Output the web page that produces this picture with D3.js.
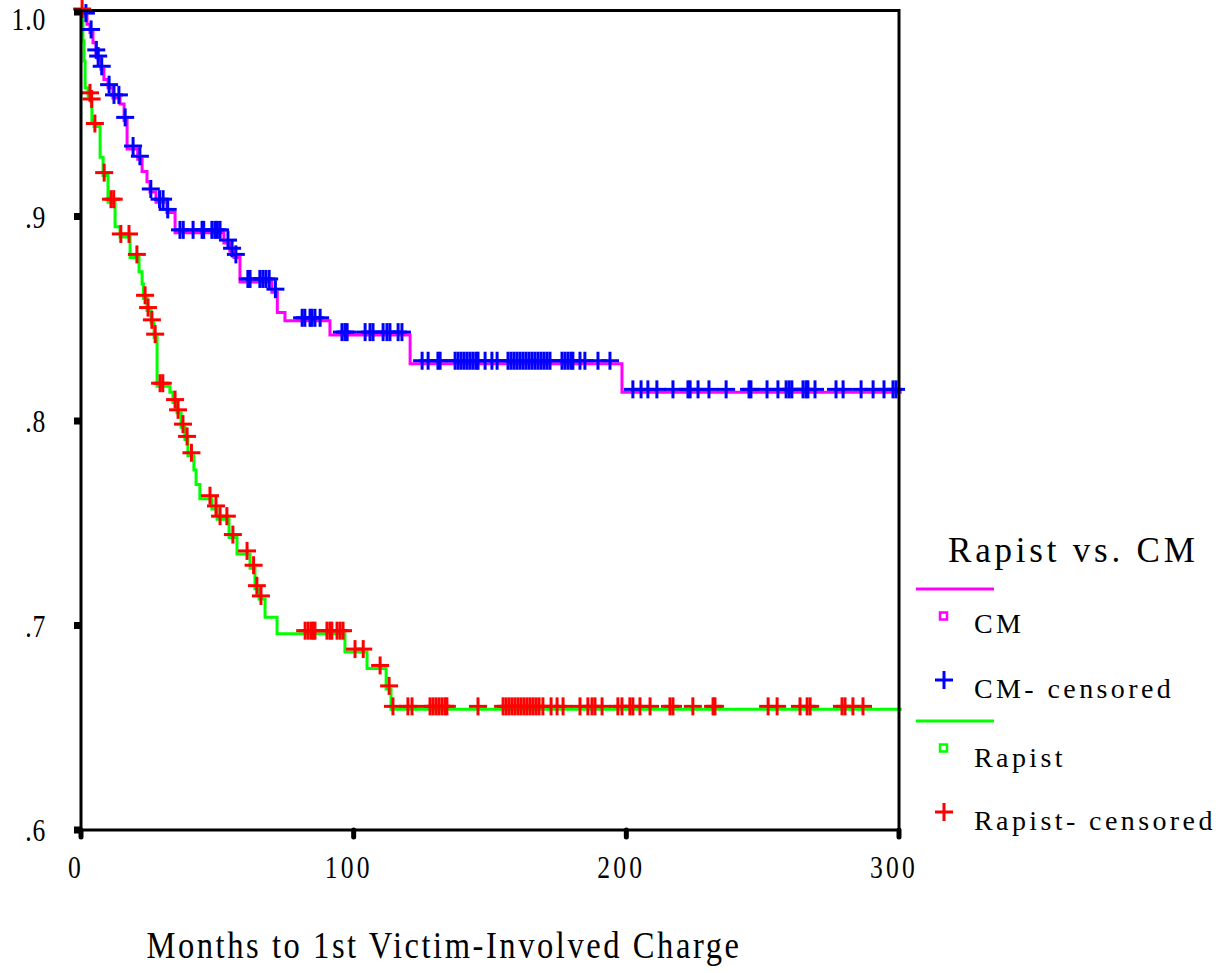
<!DOCTYPE html>
<html>
<head>
<meta charset="utf-8">
<script src="https://cdn.jsdelivr.net/npm/d3@7"></script>
<style>
  body { margin: 0; background: #fff; }
  svg { display: block; }
  text { font-family: "Liberation Serif", "Times New Roman", serif; fill: #000; }
</style>
</head>
<body>
<svg id="chart" width="1232" height="973"></svg>
<script>
// ---- Data ----
const xTicks = [0, 100, 200, 300];
const xTickLabels = ["0", "100", "200", "300"];
const yTicks = [0.6, 0.7, 0.8, 0.9, 1.0];
const yTickLabels = [".6", ".7", ".8", ".9", "1.0"];

// CM group: event (drop) times and survival after each drop
const cmEventTimes = [1.1, 2.2, 3.3, 4.4, 5.5, 6.2, 7.3, 8.4, 9.9, 11.7, 14.3, 15.8, 16.9, 20.8, 22.4, 24.2, 25.3, 27.5, 31.5, 34.5, 52.4, 54.6, 56.1, 58.3, 70.0, 72.0, 74.8, 91.3, 120.7, 198.4];
const cmEventSurv  = [0.998, 0.994, 0.990, 0.985, 0.980, 0.977, 0.972, 0.967, 0.963, 0.958, 0.955, 0.947, 0.933, 0.928, 0.922, 0.917, 0.912, 0.907, 0.902, 0.892, 0.887, 0.883, 0.880, 0.868, 0.863, 0.853, 0.849, 0.842, 0.828, 0.814];
const cmCensored = [1.8, 3.7, 5.6, 6.3, 7.6, 10.3, 12.1, 13.9, 16.2, 19.1, 21.6, 25.6, 28.8, 30.1, 31.8,
  36.3, 37.5, 41.1, 44.4, 45.0, 48.0, 49.1, 50.0, 51.0, 53.9, 55.4, 56.8,
  61.2, 62.0, 65.6, 66.7, 67.8, 69.0, 71.3, 81.1, 82.1, 84.0, 84.7, 85.8, 87.7,
  95.7, 96.8, 97.6, 104.2, 106.0, 107.1, 110.8, 112.2, 113.3, 116.3, 117.7,
  125.1, 127.3, 130.9, 131.7, 137.2, 138.3, 139.4, 140.5, 141.6, 142.7, 143.8, 144.9, 145.6, 148.2, 150.7, 152.6,
  156.6, 157.7, 158.8, 159.9, 161.0, 162.1, 163.2, 164.3, 165.4, 166.5, 167.6, 168.7, 169.8, 170.9, 172.0,
  176.4, 177.5, 178.6, 179.7, 180.4, 183.0, 184.8, 189.6, 194.0,
  202.4, 205.4, 207.9, 211.2, 217.1, 222.6, 223.4, 226.3, 230.3, 236.6, 245.0, 245.7, 251.6, 255.6,
  258.6, 259.7, 260.7, 264.8, 265.9, 266.6, 269.2, 276.9, 279.5, 286.1, 290.5, 294.5, 297.8, 298.9];

// Rapist group
const rapEventTimes = [0.7, 1.1, 1.5, 2.6, 3.7, 4.0, 4.8, 7.0, 8.1, 9.9, 12.5, 14.3, 18.0, 21.3, 22.4, 22.9, 24.2, 25.7, 26.8, 27.9, 32.6, 33.7, 35.2, 36.7, 38.1, 39.2, 41.4, 42.2, 43.6, 48.0, 49.9, 54.3, 57.2, 62.0, 63.8, 65.3, 67.5, 71.9, 96.8, 104.9, 111.9, 113.7];
const rapEventSurv  = [0.986, 0.976, 0.963, 0.959, 0.956, 0.947, 0.944, 0.929, 0.920, 0.907, 0.895, 0.890, 0.880, 0.873, 0.867, 0.860, 0.854, 0.848, 0.841, 0.817, 0.814, 0.809, 0.804, 0.797, 0.791, 0.783, 0.776, 0.769, 0.762, 0.757, 0.752, 0.743, 0.735, 0.728, 0.718, 0.713, 0.704, 0.696, 0.687, 0.679, 0.669, 0.659];
const rapCensored = [0.4, 3.3, 3.9, 5.1, 8.5, 11.0, 12.0, 14.6, 17.6, 20.5, 23.5, 24.6, 26.0, 27.2, 29.0, 30.0,
  34.5, 35.6, 37.4, 38.9, 40.5, 47.3, 49.5, 51.0, 53.5, 55.7, 60.9, 63.3, 64.5, 66.0,
  82.2, 83.3, 84.4, 85.1, 85.8, 90.2, 91.3, 92.0, 93.9, 95.0, 96.1, 100.5, 103.5, 109.7, 113.0,
  114.4, 119.9, 121.4, 128.0, 129.1, 130.2, 131.3, 132.4, 133.5, 134.2, 145.6,
  154.8, 155.9, 157.0, 158.1, 159.2, 160.3, 161.4, 162.5, 163.6, 164.7, 165.8, 166.9, 168.0, 169.4,
  172.4, 174.6, 176.8, 183.0, 185.9, 187.4, 188.5, 191.1, 196.9, 198.4, 201.3, 202.4, 205.0, 208.7,
  216.0, 217.1, 224.4, 231.8, 232.5, 252.0, 255.3, 263.7, 266.3, 267.4, 279.1, 280.2, 283.1, 286.8];

const maxTime = 301;

const groups = [
  { name: "CM", times: cmEventTimes, surv: cmEventSurv, censored: cmCensored, line: "#ff00ff", mark: "#0000ff" },
  { name: "Rapist", times: rapEventTimes, surv: rapEventSurv, censored: rapCensored, line: "#00ff00", mark: "#ff0000" }
];

const legendItems = [
  { kind: "line", color: "#ff00ff" },
  { kind: "square", color: "#ff00ff", label: "CM" },
  { kind: "plus", color: "#0000ff", label: "CM- censored" },
  { kind: "line", color: "#00ff00" },
  { kind: "square", color: "#00ff00", label: "Rapist" },
  { kind: "plus", color: "#ff0000", label: "Rapist- censored" }
];

// ---- Layout ----
const svg = d3.select("#chart");
const plot = { left: 81, right: 899, top: 10.5, bottom: 830 };
const x = d3.scaleLinear().domain([0, 300]).range([plot.left, plot.right]);
const y = d3.scaleLinear().domain([0.6, 1.0]).range([plot.bottom, 12]);

// text helper with horizontal condensing
function addText(tx, ty, str, opts) {
  const sx = opts.sx || 1;
  return svg.append("text")
    .attr("transform", `translate(${tx},${ty}) scale(${sx},1)`)
    .attr("text-anchor", opts.anchor || "start")
    .attr("font-size", opts.size)
    .attr("letter-spacing", opts.ls || 0)
    .text(str);
}

// Curves
function survAt(g, t) {
  let s = 1.0;
  for (let i = 0; i < g.times.length; i++) { if (g.times[i] <= t) s = g.surv[i]; }
  return s;
}
const stepLine = d3.line().x(d => x(d[0])).y(d => y(d[1])).curve(d3.curveStepAfter);

groups.forEach(g => {
  const pts = [[0, 1.0]].concat(g.times.map((t, i) => [t, g.surv[i]]));
  pts.push([maxTime, g.surv[g.surv.length - 1]]);
  svg.append("path").attr("d", stepLine(pts))
    .attr("fill", "none").attr("stroke", g.line).attr("stroke-width", 3);
});

// Censor markers
const plusSize = 9;
groups.forEach(g => {
  const gg = svg.append("g").attr("stroke", g.mark).attr("stroke-width", 3);
  g.censored.forEach(t => {
    const cx = x(t), cy = y(survAt(g, t)) - 3;
    gg.append("line").attr("x1", cx - plusSize).attr("x2", cx + plusSize).attr("y1", cy).attr("y2", cy);
    gg.append("line").attr("x1", cx).attr("x2", cx).attr("y1", cy - plusSize).attr("y2", cy + plusSize);
  });
});

// Frame
svg.append("rect").attr("x", plot.left).attr("y", plot.top)
  .attr("width", plot.right - plot.left).attr("height", plot.bottom - plot.top)
  .attr("fill", "none").attr("stroke", "#000").attr("stroke-width", 3);

// Y ticks & labels (top label kept inside the page, as in the reference)
yTicks.forEach((v, i) => {
  svg.append("rect").attr("x", plot.left - 7).attr("y", y(v) - 3.5).attr("width", 7).attr("height", 7).attr("fill", "#000");
  addText(46, Math.max(y(v) + 11, 30), yTickLabels[i], { anchor: "end", size: 32, sx: 0.8, ls: 1 });
});

// X ticks & labels
xTicks.forEach((v, i) => {
  svg.append("line").attr("x1", x(v)).attr("x2", x(v)).attr("y1", plot.bottom).attr("y2", plot.bottom + 7)
    .attr("stroke", "#000").attr("stroke-width", 5).attr("stroke-linecap", "round");
  addText(x(v) - 5, 878, xTickLabels[i], { anchor: "middle", size: 32, sx: 0.8, ls: 4 });
});

// Axis title
addText(444, 958, "Months to 1st Victim-Involved Charge", { anchor: "middle", size: 37, sx: 0.88, ls: 2.9 });

// Legend
addText(948, 562, "Rapist vs. CM", { size: 35, ls: 3.8 });
const legendY = [589, 616, 680, 721, 748, 812];
const legendTextY = [0, 633, 698, 0, 767, 830];
legendItems.forEach((it, i) => {
  const cy = legendY[i];
  if (it.kind === "line") {
    svg.append("line").attr("x1", 916).attr("x2", 994).attr("y1", cy).attr("y2", cy)
      .attr("stroke", it.color).attr("stroke-width", 3);
  } else if (it.kind === "square") {
    svg.append("rect").attr("x", 940).attr("y", cy - 3.5).attr("width", 7).attr("height", 7)
      .attr("fill", "none").attr("stroke", it.color).attr("stroke-width", 2.5);
  } else {
    svg.append("line").attr("x1", 935).attr("x2", 953).attr("y1", cy).attr("y2", cy).attr("stroke", it.color).attr("stroke-width", 3);
    svg.append("line").attr("x1", 944).attr("x2", 944).attr("y1", cy - 9).attr("y2", cy + 9).attr("stroke", it.color).attr("stroke-width", 3);
  }
  if (it.label) {
    addText(974, legendTextY[i], it.label, { size: 28, ls: 3.4 });
  }
});
</script>
</body>
</html>
